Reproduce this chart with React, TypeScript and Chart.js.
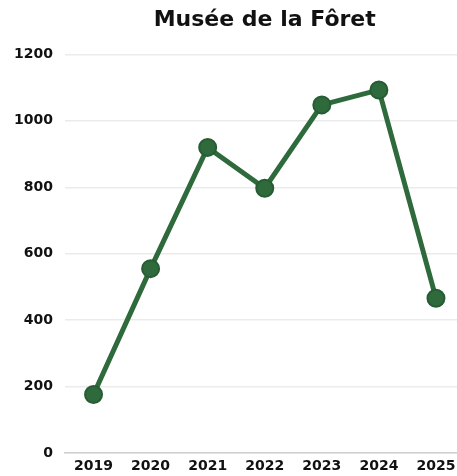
import React, { useEffect, useRef } from "react";
import { Chart, registerables } from "chart.js";

Chart.register(...registerables);

const TITLE = "Musée de la Fôret";
const YEARS = ["2019", "2020", "2021", "2022", "2023", "2024", "2025"];
const VISITORS = [176, 555, 920, 797, 1048, 1093, 466];
const Y_MAX = 1200;
const Y_STEP = 200;

const GREEN = "#2e6a3c";
const FONT = "'DejaVu Sans', sans-serif";

export default function App() {
  const ref = useRef<HTMLCanvasElement | null>(null);

  useEffect(() => {
    document.body.style.overflow = "hidden";
    const ctx = ref.current;
    if (!ctx) return;
    const chart = new Chart(ctx, {
      type: "line",
      data: {
        labels: YEARS,
        datasets: [
          {
            data: VISITORS,
            borderColor: GREEN,
            backgroundColor: GREEN,
            borderWidth: 5,
            pointRadius: 8.5,
            pointBorderWidth: 2,
            pointBackgroundColor: GREEN,
            pointBorderColor: "#285c34",
            tension: 0,
          },
        ],
      },
      options: {
        animation: false,
        responsive: false,
        maintainAspectRatio: false,
        layout: { padding: { left: 0, right: 0, top: 0, bottom: 0 } },
        plugins: {
          legend: { display: false },
          tooltip: { enabled: false },
          title: {
            display: true,
            text: TITLE,
            fullSize: false,
            color: "#111",
            font: { family: FONT, size: 22, weight: "bold" },
            padding: { top: 7, bottom: 21 },
          },
        },
        scales: {
          x: {
            offset: true,
            grid: { display: false, drawTicks: false },
            border: { display: true, color: "#cfcfcf", width: 1.5 },
            ticks: {
              color: "#111",
              font: { family: FONT, size: 14, weight: "bold" },
              padding: 5,
              maxRotation: 0,
              autoSkip: false,
            },
            afterFit: (s: any) => {
              s.height = 23;
            },
          },
          y: {
            min: 0,
            max: Y_MAX,
            grid: { color: "#ebebeb", lineWidth: 1.5, drawTicks: false },
            border: { display: false },
            ticks: {
              stepSize: Y_STEP,
              color: "#111",
              font: { family: FONT, size: 14, weight: "bold" },
              padding: 12,
              callback: (v: any) => String(v),
            },
            afterFit: (s: any) => {
              s.width = 65;
            },
          },
        },
      },
    });
    return () => chart.destroy();
  }, []);

  return (
    <div style={{ position: "absolute", left: 0, top: 0, width: 475, height: 476, background: "#fff" }}>
      <canvas ref={ref} width={475} height={476} style={{ display: "block" }} />
    </div>
  );
}
